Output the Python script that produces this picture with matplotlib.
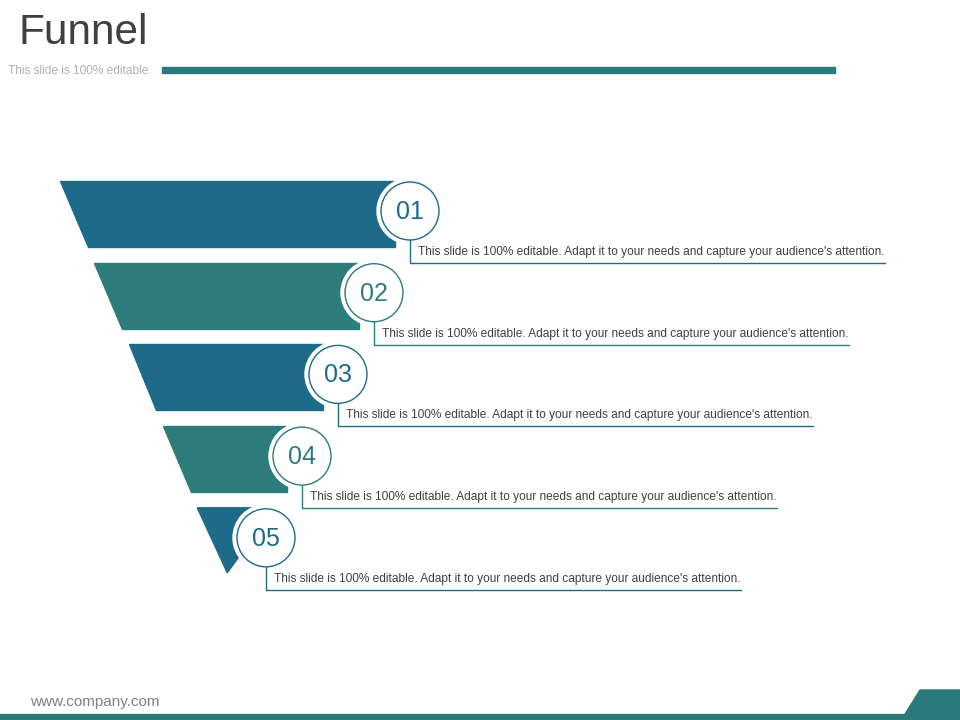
import matplotlib.pyplot as plt
from matplotlib.patches import Polygon, Circle, Rectangle

# data
stages = ["01", "02", "03", "04", "05"]
descriptions = ["This slide is 100% editable. Adapt it to your needs and capture your audience's attention."] * 5
band_colors = ["#1d6b88", "#2e7b7c", "#1d6b88", "#2e7b7c", "#1d6b88"]

title = "Funnel"
subtitle = "This slide is 100% editable."
footer = "www.company.com"

fig = plt.figure(figsize=(9.6, 7.2), dpi=100)
ax = fig.add_axes([0, 0, 1, 1])
ax.set_xlim(0, 960)
ax.set_ylim(720, 0)
ax.axis("off")

# header
ax.text(18, 33, title, fontsize=30.5, color="#404040", va="center", family="Liberation Sans")
ax.text(8, 71, subtitle, fontsize=8.6, color="#b0b0b0", va="center", family="Liberation Sans")
ax.add_patch(Rectangle((162, 67), 673, 6, color="#2a7a7c"))

# funnel geometry
top0, band_h, step = 181, 66, 81.7
left0, slope = 60, 0.42
cx0, cdx, r = 410, -36, 29

for i, (lab, desc, col) in enumerate(zip(stages, descriptions, band_colors)):
    y0 = top0 + i * step
    y1 = y0 + band_h
    xl0 = left0 + slope * (y0 - top0)
    xl1 = left0 + slope * (y1 - top0)
    cx = cx0 + i * cdx
    cy = y0 + 30
    if i == len(stages) - 1:
        pts = [(xl0, y0), (cx, y0), (cx - 22, y0 + 42), (xl0 + 30, y1 - 1)]
    else:
        pts = [(xl0, y0), (cx - 15, y0), (cx - 15, y1), (xl1, y1)]
    ax.add_patch(Polygon(pts, closed=True, color=col, zorder=1))
    ax.add_patch(Circle((cx, cy), r + 4, color="white", zorder=2))
    ax.add_patch(Circle((cx, cy), r, facecolor="white", edgecolor=col, lw=1, zorder=3))
    ax.text(cx, cy + 1, lab, fontsize=18, color=col, ha="center", va="center",
            family="Liberation Sans", zorder=4)
    ly = cy + 52
    ax.plot([cx, cx, cx + 475], [cy + r, ly, ly], color=col, lw=1, zorder=2)
    ax.text(cx + 8, ly - 11, desc, fontsize=8.6, color="#404040", va="center",
            family="Liberation Sans")

# footer
ax.text(30, 702, footer, fontsize=11, color="#808080", va="center", family="Liberation Sans")
ax.add_patch(Rectangle((0, 714), 960, 6, color="#2a7a7c"))
ax.add_patch(Polygon([(905, 714), (920, 690), (960, 690), (960, 714)], color="#2a7a7c"))

fig.savefig("out.png", dpi=100)
